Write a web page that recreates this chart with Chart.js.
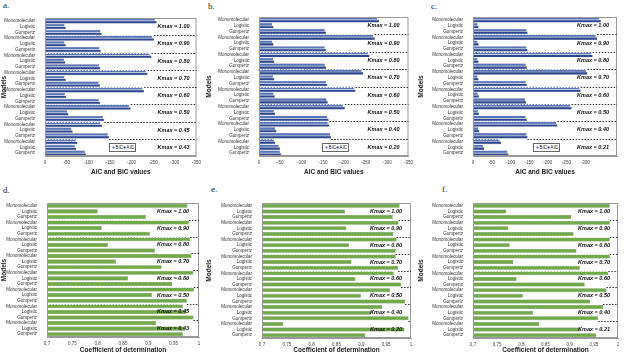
<!DOCTYPE html>
<html>
<head>
<meta charset="utf-8">
<script src="https://cdn.jsdelivr.net/npm/chart.js@4.4.1/dist/chart.umd.min.js"></script>
<style>
  body { margin: 0; background: #fff; width: 624px; height: 356px; position: relative; overflow: hidden; }
  canvas { position: absolute; }
  .tag { position: absolute; font-family: "Liberation Serif", serif; font-size: 9px; color: #222; }
</style>
</head>
<body>
<div class="tag" style="left:3px;top:0px">a.</div>
<div class="tag" style="left:208px;top:1px">b.</div>
<div class="tag" style="left:431px;top:1px">c.</div>
<div class="tag" style="left:3px;top:185px">d.</div>
<div class="tag" style="left:211px;top:184px">e.</div>
<div class="tag" style="left:442px;top:184px">f.</div>

<canvas id="pa" width="205" height="178" style="left:0;top:0"></canvas>
<canvas id="pb" width="212" height="178" style="left:205px;top:0"></canvas>
<canvas id="pc" width="207" height="178" style="left:417px;top:0"></canvas>
<canvas id="pd" width="205" height="178" style="left:0;top:178px"></canvas>
<canvas id="pe" width="212" height="178" style="left:205px;top:178px"></canvas>
<canvas id="pf" width="207" height="178" style="left:417px;top:178px"></canvas>

<script>
// model names, repeated for each Kmax group (top to bottom)
const models = ['Monomolecular', 'Logistic', 'Gompertz'];

// Kmax group labels
const kmaxA = ['1.00', '0.90', '0.80', '0.70', '0.60', '0.50', '0.45', '0.43'];
const kmaxB = ['1.00', '0.90', '0.80', '0.70', '0.60', '0.50', '0.40', '0.20'];
const kmaxC = ['1.00', '0.90', '0.80', '0.70', '0.60', '0.50', '0.40', '0.21'];

// AIC / BIC values (top row)
const aicA = [-258, -48, -131, -252, -48, -129, -246, -47, -128, -237, -48, -127,
              -229, -49, -127, -198, -54, -137, -132, -64, -148, -75, -72, -95];
const bicA = [-254, -45, -128, -248, -45, -126, -242, -44, -125, -233, -45, -124,
              -225, -46, -124, -194, -51, -134, -128, -61, -145, -71, -69, -92];
const aicB = [-281, -34, -157, -271, -34, -157, -259, -36, -157, -244, -36, -160,
              -226, -37, -161, -201, -38, -163, -165, -41, -169, -38, -49, -52];
const bicB = [-277, -31, -154, -267, -31, -154, -255, -33, -154, -240, -33, -157,
              -222, -34, -158, -197, -35, -160, -161, -38, -166, -35, -46, -49];
const aicC = [-342, -15, -146, -332, -15, -146, -320, -15, -144, -306, -15, -144,
              -288, -16, -142, -264, -16, -144, -226, -17, -146, -75, -30, -95];
const bicC = [-338, -12, -143, -328, -12, -143, -316, -12, -141, -302, -12, -141,
              -284, -13, -139, -260, -13, -141, -222, -14, -143, -71, -27, -92];

// coefficient of determination (bottom row)
const r2D = [0.977, 0.800, 0.895, 0.980, 0.808, 0.903, 0.982, 0.820, 0.913, 0.985, 0.836, 0.926,
             0.989, 0.860, 0.947, 0.990, 0.907, 0.976, 0.968, 0.975, 0.989, 0.915, 0.972, 0.968];
const r2E = [0.977, 0.867, 0.963, 0.975, 0.870, 0.964, 0.971, 0.875, 0.969, 0.969, 0.880, 0.974,
             0.965, 0.888, 0.980, 0.958, 0.899, 0.988, 0.942, 0.919, 0.995, 0.742, 0.987, 0.908];
const r2F = [0.983, 0.769, 0.903, 0.983, 0.773, 0.908, 0.983, 0.776, 0.914, 0.983, 0.783, 0.921,
             0.980, 0.790, 0.931, 0.976, 0.803, 0.942, 0.969, 0.824, 0.959, 0.837, 0.921, 0.955];

const FONT = '"Liberation Sans", Arial, sans-serif';
const labels = [];
kmaxA.forEach(() => models.forEach(m => labels.push(m)));

// draws the frame, dashed group separators, Kmax notes and the small legend
const extras = {
  id: 'extras',
  afterDatasetsDraw(chart, args, opts) {
    const { ctx, chartArea: ca, scales: { x, y } } = chart;
    ctx.save();
    ctx.lineWidth = 1;
    ctx.strokeStyle = '#999';
    ctx.strokeRect(ca.left + 0.5, ca.top + 0.5, ca.width - 1, ca.height - 1);

    for (let g = 1; g < opts.kmax.length; g++) {
      const i = g * 3;
      const yy = Math.round((y.getPixelForValue(i - 1) + y.getPixelForValue(i)) / 2) + 0.5;
      let end = ca.left;
      chart.data.datasets.forEach(ds => {
        end = Math.max(end, x.getPixelForValue(ds.data[i - 1]), x.getPixelForValue(ds.data[i]));
      });
      end = Math.min(end, ca.right);
      ctx.setLineDash([1.5, 1.5]);
      ctx.strokeStyle = '#fff';
      ctx.beginPath(); ctx.moveTo(ca.left + 1, yy); ctx.lineTo(end, yy); ctx.stroke();
      ctx.strokeStyle = '#333';
      ctx.beginPath(); ctx.moveTo(end, yy); ctx.lineTo(ca.right, yy); ctx.stroke();
    }
    ctx.setLineDash([]);

    ctx.font = 'italic bold 5.5px ' + FONT;
    ctx.fillStyle = '#111';
    ctx.textAlign = 'right';
    ctx.textBaseline = 'middle';
    opts.kmax.forEach((k, g) => {
      ctx.fillText('Kmax = ' + k, ca.right - opts.kOff, y.getPixelForValue(g * 3 + 1));
    });

    if (opts.legend) {
      const lx = Math.round(ca.left + ca.width * 0.42) + 0.5;
      const ly = Math.round(y.getPixelForValue(22) - 4) + 0.5;
      ctx.fillStyle = '#fff';
      ctx.fillRect(lx, ly, 26, 8);
      ctx.strokeStyle = '#666';
      ctx.strokeRect(lx, ly, 26, 8);
      ctx.font = '4.5px ' + FONT;
      ctx.textAlign = 'left';
      ctx.fillStyle = chart.data.datasets[0].backgroundColor;
      ctx.fillRect(lx + 3, ly + 3, 2, 2);
      ctx.fillStyle = '#222';
      ctx.fillText('BIC', lx + 6, ly + 4.2);
      ctx.fillStyle = chart.data.datasets[1].backgroundColor;
      ctx.fillRect(lx + 14, ly + 3, 2, 2);
      ctx.fillStyle = '#222';
      ctx.fillText('AIC', lx + 17, ly + 4.2);
    }
    ctx.restore();
  }
};

function makePanel(id, p) {
  const cv = document.getElementById(id);
  const W = cv.width, H = cv.height;
  return new Chart(cv, {
    type: 'bar',
    data: { labels: labels, datasets: p.datasets },
    options: {
      indexAxis: 'y',
      responsive: false,
      animation: false,
      devicePixelRatio: 1,
      layout: { padding: { left: 0, top: p.top, right: W - p.right, bottom: 0 } },
      plugins: {
        legend: { display: false },
        tooltip: { enabled: false },
        extras: { kmax: p.kmax, kOff: p.kOff, legend: p.legend }
      },
      datasets: { bar: { categoryPercentage: p.cat, barPercentage: p.bar } },
      scales: {
        y: {
          grid: { display: false },
          border: { color: '#999' },
          ticks: { autoSkip: false, font: { family: FONT, size: 4.5 }, color: '#333', padding: 2 },
          title: { display: true, text: 'Models', font: { family: FONT, size: 6.5, weight: 'bold' }, color: '#222', padding: { top: 0, bottom: 0 } },
          afterFit: s => { s.width = p.left; }
        },
        x: {
          min: p.min, max: p.max, reverse: p.reverse,
          grid: { display: false, drawTicks: false },
          border: { color: '#999' },
          afterBuildTicks: s => { s.ticks = s.ticks.filter(t => Math.abs(t.value / p.step - Math.round(t.value / p.step)) < 1e-6); },
          ticks: {
            stepSize: p.step, font: { family: FONT, size: 4.5 }, color: '#444', padding: 4,
            callback: v => String(Math.round(v * 100) / 100).replace('.', ',')
          },
          title: { display: true, text: p.title, font: { family: FONT, size: 6.5, weight: 'bold' }, color: '#222', padding: { top: 2, bottom: 2 } },
          afterFit: s => { s.height = H - p.bottom; }
        }
      }
    },
    plugins: [extras]
  });
}

function blueSets(bic, aic) {
  return [
    { label: 'BIC', data: bic, backgroundColor: '#5a74ba', borderColor: '#2c4182', borderWidth: 0.4 },
    { label: 'AIC', data: aic, backgroundColor: '#2f4790', borderColor: '#1f3272', borderWidth: 0.4 }
  ];
}
function greenSet(r2) {
  return [{ label: 'R2', data: r2, backgroundColor: '#72a94a', borderColor: '#4c7c30', borderWidth: 0.5 }];
}

const topCommon = { min: -350, max: 0, reverse: true, step: 50, title: 'AIC and BIC values', cat: 0.94, bar: 0.96, legend: true };
const botCommon = { min: 0.7, max: 1, reverse: false, step: 0.05, title: 'Coefficient of determination', cat: 0.78, bar: 0.92, legend: false };

makePanel('pa', Object.assign({}, topCommon, { datasets: blueSets(bicA, aicA), kmax: kmaxA, left: 45, right: 197, top: 18, bottom: 156, kOff: 7 }));
makePanel('pb', Object.assign({}, topCommon, { datasets: blueSets(bicB, aicB), kmax: kmaxB, left: 54, right: 209, top: 17, bottom: 156, kOff: 9 }));
makePanel('pc', Object.assign({}, topCommon, { min: -385, datasets: blueSets(bicC, aicC), kmax: kmaxC, left: 56, right: 200, top: 17, bottom: 156, kOff: 8 }));
makePanel('pd', Object.assign({}, botCommon, { datasets: greenSet(r2D), kmax: kmaxA, left: 47, right: 199, top: 25, bottom: 159, kOff: 10 }));
makePanel('pe', Object.assign({}, botCommon, { datasets: greenSet(r2E), kmax: kmaxB, left: 57, right: 206, top: 25, bottom: 160, kOff: 9 }));
makePanel('pf', Object.assign({}, botCommon, { datasets: greenSet(r2F), kmax: kmaxC, left: 56, right: 201, top: 25, bottom: 160, kOff: 8 }));
</script>
</body>
</html>
